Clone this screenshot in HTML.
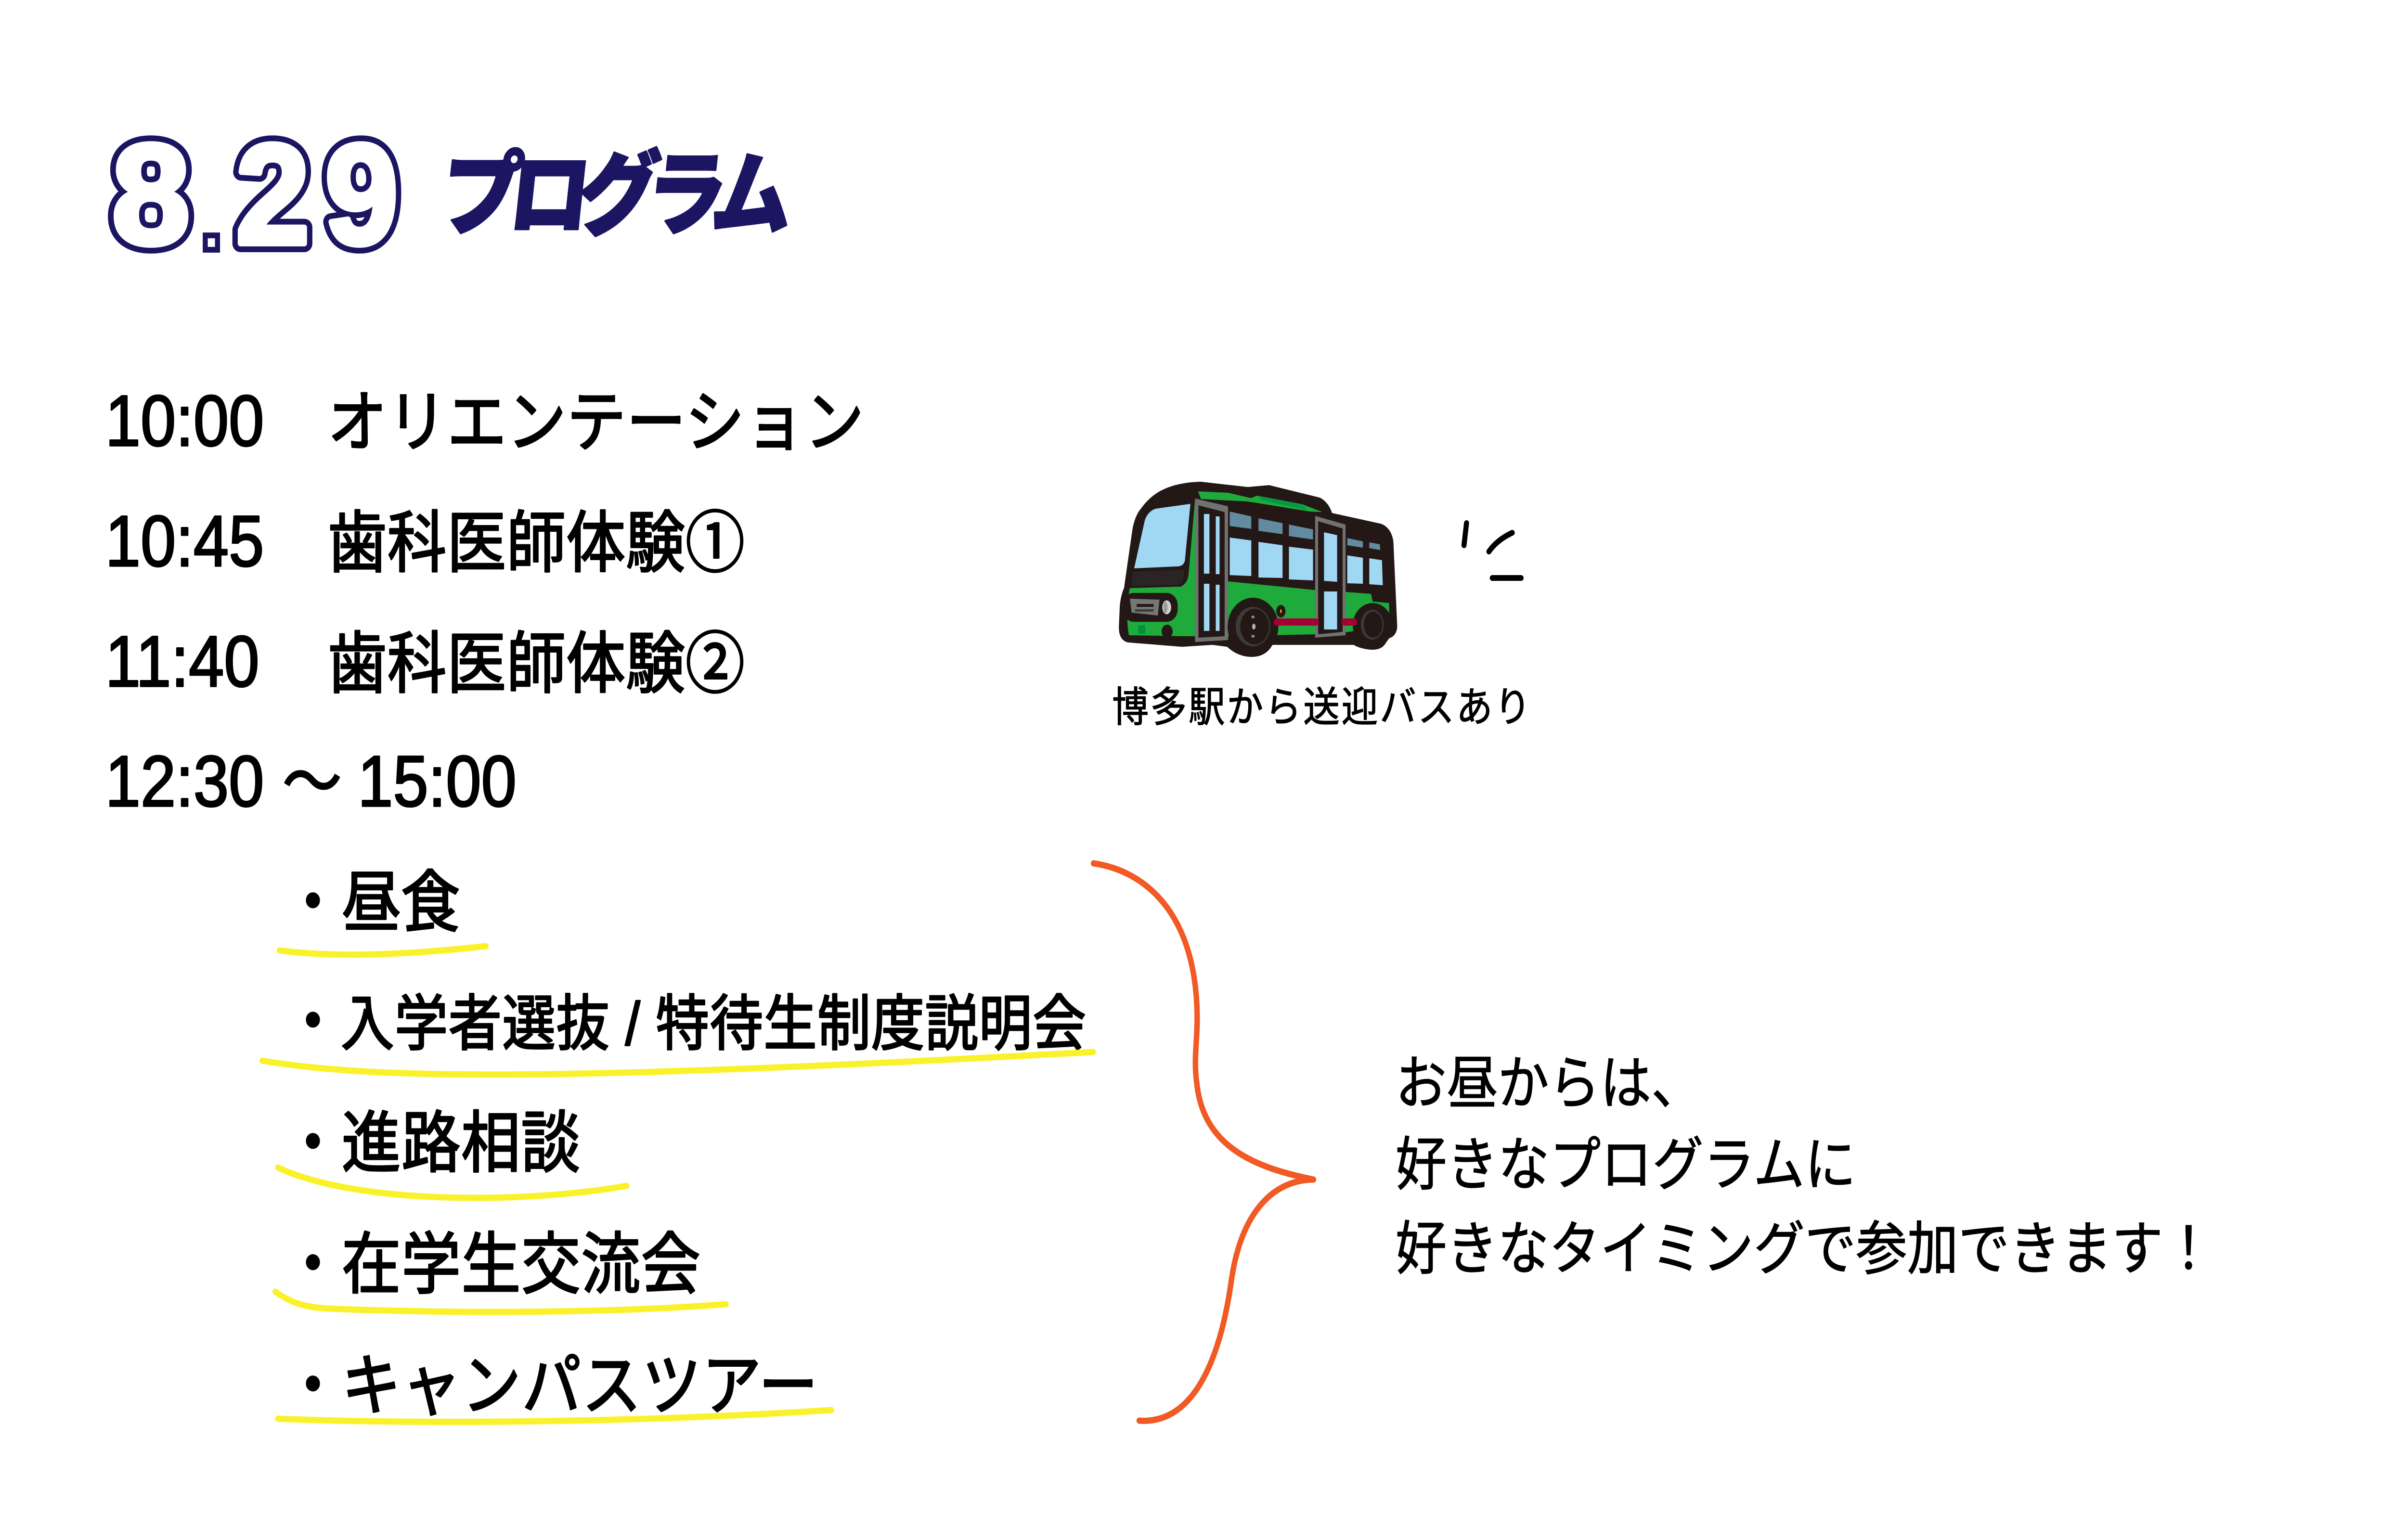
<!DOCTYPE html>
<html lang="ja">
<head>
<meta charset="utf-8">
<title>8.29 プログラム</title>
<style>
  html, body { margin: 0; padding: 0; background: #ffffff; width: 100%; height: 100%; overflow: hidden; }
  svg { display: block; width: 100vw; height: 100vh; }
</style>
</head>
<body>
<svg xmlns="http://www.w3.org/2000/svg" viewBox="0 0 5692 3200" preserveAspectRatio="none">
  <rect x="0" y="0" width="5692" height="3200" fill="#ffffff"/>

  <!-- ===== Title "8.29" (outlined) ===== -->
  <g font-family="'Liberation Sans', sans-serif" font-weight="700" font-size="296" text-anchor="middle">
    <g fill="#1c1562" stroke="#1c1562" stroke-width="36" stroke-linejoin="round">
      <text transform="translate(357,506) scale(1.12,1)">8</text>
      <text transform="translate(645,506) scale(1.06,1)">2</text>
      <text transform="translate(855,506) scale(1.05,1)">9</text>
    </g>
    <g fill="#ffffff" stroke="#ffffff" stroke-width="12" stroke-linejoin="round">
      <text transform="translate(357,506) scale(1.12,1)">8</text>
      <text transform="translate(645,506) scale(1.06,1)">2</text>
      <text transform="translate(855,506) scale(1.05,1)">9</text>
    </g>
  </g>
  <g font-family="'Liberation Sans', sans-serif" font-weight="700" font-size="120" text-anchor="middle">
    <text x="500" y="513" fill="#1c1562" stroke="#1c1562" stroke-width="24" stroke-linejoin="miter">.</text>
    <text x="500" y="513" fill="#ffffff">.</text>
  </g>

  <!-- ===== Title "プログラム" ===== -->
  <text transform="translate(1036,472) skewX(-7)" x="0" y="0"
        font-family="'Liberation Sans', 'Noto Sans CJK JP', sans-serif" font-weight="900" font-size="190"
        fill="#1c1562" stroke="#1c1562" stroke-width="4" stroke-linejoin="round"
        textLength="830" lengthAdjust="spacing">プログラム</text>

  <!-- ===== Schedule ===== -->
  <g font-family="'Liberation Sans', 'Noto Sans CJK JP', sans-serif" font-weight="400" fill="#000000"
     stroke="#000000" stroke-width="3.5" stroke-linejoin="round">
    <g font-size="150">
      <text x="249" y="926">10:00</text>
      <text x="249" y="1176">10:45</text>
      <text x="249" y="1426">11:40</text>
      <text x="249" y="1675">12:30</text>
      <text x="846" y="1675">15:00</text>
    </g>
    <g font-size="140" font-family="'Noto Sans CJK JP', sans-serif">
      <text x="668" y="1674">〜</text>
      <text x="775" y="926" textLength="1268" lengthAdjust="spacing">オリエンテーション</text>
      <text x="775" y="1177" textLength="986" lengthAdjust="spacing">歯科医師体験①</text>
      <text x="775" y="1428" textLength="986" lengthAdjust="spacing">歯科医師体験②</text>
    </g>

    <g font-size="140" font-family="'Noto Sans CJK JP', sans-serif">
      <text x="670" y="1924">・</text>
      <text x="670" y="2172">・</text>
      <text x="670" y="2424">・</text>
      <text x="670" y="2676">・</text>
      <text x="670" y="2928">・</text>
      <text x="808" y="1924" textLength="280" lengthAdjust="spacing">昼食</text>
      <text x="808" y="2424" textLength="564" lengthAdjust="spacing">進路相談</text>
      <text x="808" y="2676" textLength="848" lengthAdjust="spacing">在学生交流会</text>
      <text x="808" y="2928" textLength="1126" lengthAdjust="spacing">キャンパスツアー</text>
    </g>
    <text x="806" y="2171" font-size="126" font-family="'Liberation Sans', 'Noto Sans CJK JP', sans-serif"
          textLength="1762" lengthAdjust="spacing">入学者選抜 / 特待生制度説明会</text>
  </g>

  <!-- ===== Yellow underlines ===== -->
  <g fill="none" stroke="#f9f22b" stroke-width="13" stroke-linecap="round">
    <path d="M661,1975 C760,1986 900,1990 1149,1966"/>
    <path d="M620,2204 C900,2245 1350,2245 2585,2186"/>
    <path d="M657,2426 C850,2505 1250,2500 1482,2464"/>
    <path d="M651,2684 C700,2715 740,2718 800,2720 C1100,2730 1450,2728 1717,2710"/>
    <path d="M657,2948 C1000,2960 1500,2956 1966,2930"/>
  </g>

  <!-- ===== Orange brace ===== -->
  <g fill="none" stroke="#f15a24" stroke-width="13" stroke-linecap="round" stroke-linejoin="round">
    <path d="M2586,1794 C2700,1808 2828,1890 2831,2110 C2832,2160 2822,2200 2830,2250 C2845,2380 2960,2425 3106,2451"/>
    <path d="M3106,2451 C3010,2452 2935,2520 2912,2660 C2885,2830 2820,2960 2694,2952"/>
  </g>

  <!-- ===== Bus ===== -->
  <g>
    <path fill="#231815" d="M2840,1001 L2951,1012 L3001,1008 L3121,1034 C3135,1040 3145,1052 3150,1066 L3264,1088 C3280,1092 3292,1105 3295,1125 L3304,1299 C3305,1315 3295,1325 3282,1327 C3275,1345 3262,1350 3246,1350 C3228,1350 3210,1345 3201,1340 L3009,1340 C2998,1358 2980,1365 2960,1365 C2935,1365 2915,1355 2902,1344 L2867,1340 L2795,1344 L2668,1335 C2652,1332 2645,1320 2646,1300 L2648,1260 C2650,1240 2655,1228 2658,1222 L2678,1100 C2682,1080 2690,1065 2697,1058 C2712,1040 2725,1030 2742,1021 C2770,1008 2800,1002 2840,1001 Z"/>
    <path fill="#1faa3c" d="M2833,1021 L2905,1024 L2958,1035 L2973,1030 L3080,1048 L3127,1064 L3098,1063 L2950,1042 L2840,1037 Z"/>
    <path fill="#009944" d="M2975,1031 L3078,1049 L3092,1060 L2985,1040 Z"/>
    <path fill="#1faa3c" d="M2672,1222 L2792,1219 C2804,1214 2810,1205 2811,1190 L2826,1038 L2834,1036 L2834,1322 L2795,1322 L2670,1320 C2664,1300 2664,1250 2672,1222 Z"/>
    <path fill="#2b2424" d="M2679,1188 L2800,1184 L2798,1205 C2796,1212 2790,1215 2780,1215 L2676,1218 Z"/>
    <path fill="#a0d8f4" d="M2682,1181 L2707,1082 C2712,1068 2722,1060 2733,1057 L2815,1047 L2802,1165 C2800,1173 2793,1177 2783,1177 Z"/>
    <rect x="2655" y="1232" width="130" height="60" rx="26" fill="#231815"/>
    <polygon points="2672,1244 2742,1246 2738,1279 2676,1273" fill="#767676"/>
    <rect x="2688" y="1255" width="40" height="6" fill="#231815"/>
    <rect x="2684" y="1266" width="44" height="5" fill="#3e3a39"/>
    <ellipse cx="2759" cy="1262" rx="12" ry="16" fill="#d0d0d0" stroke="#231815" stroke-width="3"/>
    <ellipse cx="2756" cy="1262" rx="5" ry="12" fill="#9a9a9a"/>
    <rect x="2692" y="1299" width="16" height="18" fill="#00913a"/>
    <ellipse cx="2760" cy="1312" rx="13" ry="14" fill="#231815"/>
    <polygon points="2826,1036 2904,1052 2904,1330 2826,1334" fill="#727171"/>
    <polygon points="2834,1050 2896,1064 2896,1322 2834,1325" fill="#231815"/>
    <rect x="2847" y="1068" width="13" height="124" fill="#a0d8f4"/>
    <rect x="2875" y="1073" width="9" height="120" fill="#a0d8f4"/>
    <rect x="2847" y="1213" width="13" height="98" fill="#a0d8f4"/>
    <rect x="2875" y="1215" width="9" height="96" fill="#a0d8f4"/>
    <polygon points="2904,1208 3110,1226 3110,1318 2904,1322" fill="#1faa3c"/>
    <polygon points="2908,1063 2959,1073 2959,1099 2908,1093" fill="#628aa0"/>
    <polygon points="2976,1077 3033,1087 3033,1110 2976,1103" fill="#628aa0"/>
    <polygon points="3048,1090 3105,1100 3105,1121 3048,1114" fill="#628aa0"/>
    <polygon points="2908,1117 2959,1123 2959,1197 2908,1195" fill="#a0d8f4"/>
    <polygon points="2976,1126 3033,1133 3033,1201 2976,1200" fill="#a0d8f4"/>
    <polygon points="3048,1136 3105,1142 3105,1206 3048,1204" fill="#a0d8f4"/>
    <polygon points="3110,1072 3182,1090 3182,1320 3110,1325" fill="#727171"/>
    <polygon points="3117,1083 3175,1098 3175,1313 3117,1318" fill="#231815"/>
    <polygon points="3131,1106 3162,1112 3162,1209 3131,1207" fill="#a0d8f4"/>
    <rect x="3131" y="1229" width="31" height="79" fill="#a0d8f4"/>
    <polygon points="3182,1230 3242,1234 3246,1250 3285,1253 3285,1300 3182,1314" fill="#1faa3c"/>
    <polygon points="3186,1118 3223,1125 3223,1138 3186,1133" fill="#628aa0"/>
    <polygon points="3238,1127 3263,1131 3264,1143 3238,1139" fill="#628aa0"/>
    <polygon points="3186,1154 3223,1159 3223,1213 3186,1212" fill="#a0d8f4"/>
    <polygon points="3238,1160 3268,1164 3270,1216 3238,1214" fill="#a0d8f4"/>
    <circle cx="2963" cy="1302" r="60" fill="#231815"/>
    <ellipse cx="2963" cy="1302" rx="41" ry="41" fill="#3e3a39"/>
    <ellipse cx="2967" cy="1302" rx="34" ry="37" fill="#231815"/>
    <ellipse cx="2965" cy="1302" rx="4" ry="6" fill="#b5b5b5"/>
    <ellipse cx="2963" cy="1282" rx="4" ry="3" fill="#8a8a8a"/>
    <ellipse cx="2963" cy="1322" rx="4" ry="3" fill="#8a8a8a"/>
    <circle cx="3246" cy="1300" r="47" fill="#231815"/>
    <ellipse cx="3245" cy="1298" rx="27" ry="31" fill="#3e3a39"/>
    <ellipse cx="3247" cy="1298" rx="22" ry="27" fill="#231815"/>
    <rect x="3012" y="1285" width="107" height="15" rx="7.5" fill="#a40035"/>
    <rect x="3172" y="1285" width="37" height="15" rx="7.5" fill="#a40035"/>
    <ellipse cx="3029" cy="1270" rx="11" ry="13" fill="#231815"/>
    <ellipse cx="3029" cy="1270" rx="2" ry="4" fill="#f39800"/>
  </g>

  <!-- speed lines -->
  <g fill="none" stroke="#000000" stroke-width="12" stroke-linecap="round">
    <path d="M3468,1087 L3462,1133"/>
    <path d="M3576,1107 Q3540,1122 3521,1146"/>
    <path d="M3529,1201 L3597,1201"/>
  </g>

  <!-- bus caption -->
  <text x="2630" y="1499" font-family="'Liberation Sans', 'Noto Sans CJK JP', sans-serif" font-weight="400"
        font-size="86" fill="#000000" stroke="#000000" stroke-width="1.5"
        textLength="990" lengthAdjust="spacing">博多駅から送迎バスあり</text>

  <!-- ===== Right text ===== -->
  <g font-family="'Liberation Sans', 'Noto Sans CJK JP', sans-serif" font-weight="400" font-size="121" fill="#000000"
     stroke="#000000" stroke-width="1.5">
    <text x="3300" y="2293" textLength="726" lengthAdjust="spacing">お昼からは、</text>
    <text x="3300" y="2462" textLength="1089" lengthAdjust="spacing">好きなプログラムに</text>
    <text x="3300" y="2637" textLength="1936" lengthAdjust="spacing">好きなタイミングで参加できます！</text>
  </g>
</svg>
</body>
</html>
